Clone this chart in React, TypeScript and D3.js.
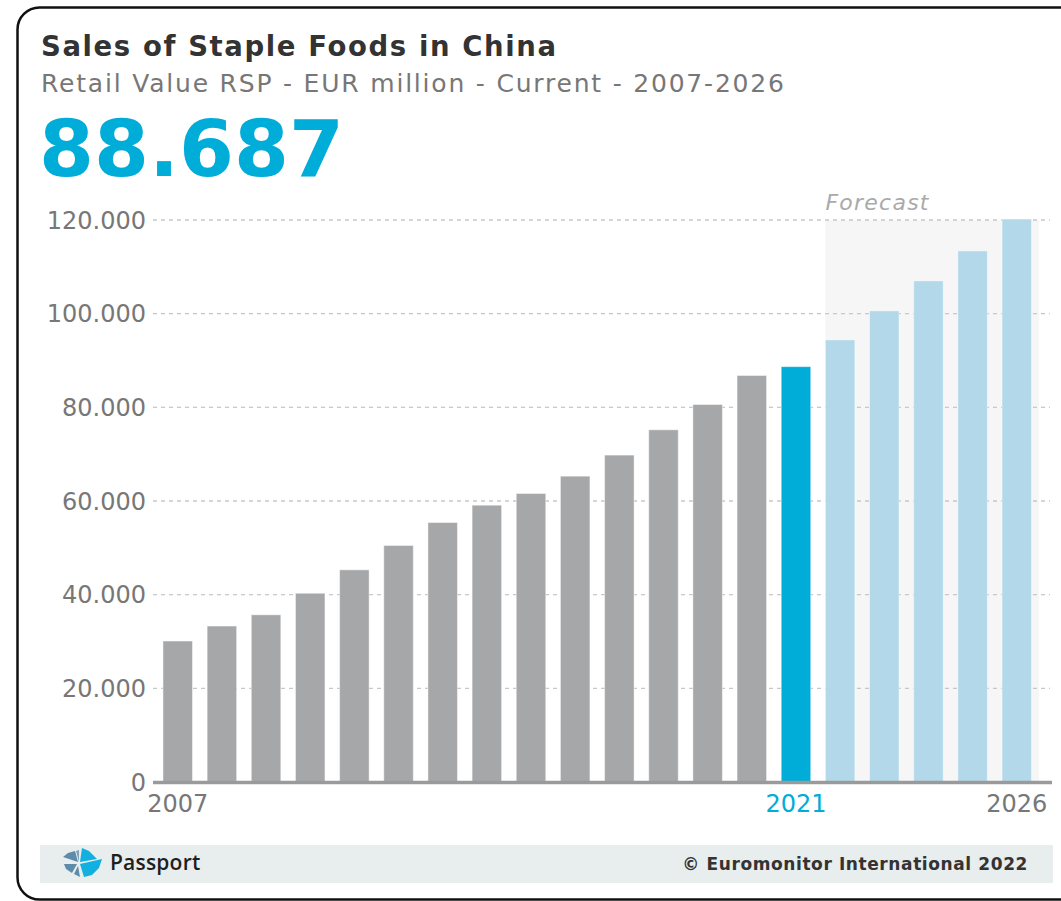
import React from "react";
import * as d3 from "d3";

const years = ["2007","2008","2009","2010","2011","2012","2013","2014","2015","2016","2017","2018","2019","2020","2021","2022","2023","2024","2025","2026"];
const values = [30.1,33.3,35.7,40.3,45.3,50.5,55.4,59.1,61.6,65.3,69.8,75.2,80.6,86.8,88.687,94.4,100.6,107.0,113.4,120.2];
const yTicks = [0,20,40,60,80,100,120];
const yTickLabels = ["0","20.000","40.000","60.000","80.000","100.000","120.000"];
const xLabels = ["2007","2021","2026"];
const currentYear = "2021";
const forecastYears = ["2022","2023","2024","2025","2026"];

const W = 1061, H = 901;
const FONT = "'DejaVu Sans', Verdana, sans-serif";

export default function App() {
  const x = d3.scaleBand<string>().domain(years).range([140.9, 1053.6]).paddingInner(0.332).paddingOuter(0.5);
  const y = d3.scaleLinear().domain([0, 120]).range([782, 220]);
  const bw = x.bandwidth();
  const gap = x.step() - bw;
  const fx0 = x(forecastYears[0])!;
  const fx1 = x(forecastYears[forecastYears.length - 1])! + bw + gap / 2;

  const color = (yr: string) =>
    yr === currentYear ? "#00acd8" : forecastYears.includes(yr) ? "#b2d8ea" : "#a6a7a9";

  return (
    <svg width={W} height={H} style={{ position: "absolute", left: 0, top: 0 }} fontFamily={FONT}>
      <rect x={0} y={0} width={W} height={H} fill="#fff" />
      <rect x={17.5} y={7.5} width={1080} height={892} rx={22} fill="#fff" stroke="#111" strokeWidth={2.5} />

      <text x={41} y={56} fontSize={27.5} fontWeight="bold" fill="#333" letterSpacing={1.6}>Sales of Staple Foods in China</text>
      <text x={41} y={92} fontSize={25} fill="#777" letterSpacing={1.8}>Retail Value RSP - EUR million - Current - 2007-2026</text>
      <text x={39} y={176} fontSize={79} fontWeight="bold" fill="#00acd8">88.687</text>

      {/* forecast background */}
      <rect x={fx0} y={y(120)} width={fx1 - fx0} height={y(0) - y(120)} fill="#f6f6f6" />
      <text x={fx0} y={210} fontSize={22} fontStyle="italic" fill="#aaa" letterSpacing={1.25}>Forecast</text>

      {/* gridlines */}
      {yTicks.filter(t => t > 0).map(t => (
        <line key={t} x1={153} x2={1050} y1={y(t)} y2={y(t)} stroke="#c8c8c8" strokeWidth={1.3} strokeDasharray="4,4" />
      ))}

      {/* bars */}
      {years.map((yr, i) => (
        <rect key={yr} x={x(yr)!} y={y(values[i])} width={bw} height={y(0) - y(values[i])} fill={color(yr)} stroke="#ffffff" strokeOpacity={0.45} strokeWidth={1} />
      ))}

      {/* axis line */}
      <line x1={153} x2={1052} y1={y(0) + 0.5} y2={y(0) + 0.5} stroke="#9a9a9a" strokeWidth={3.5} />

      {/* y labels */}
      {yTicks.map((t, i) => (
        <text key={t} x={146} y={y(t) + 8.5} fontSize={24} fill="#777" textAnchor="end">{yTickLabels[i]}</text>
      ))}

      {/* x labels */}
      {xLabels.map(l => (
        <text key={l} x={x(l)! + bw / 2} y={812} fontSize={24} textAnchor="middle" fill={l === currentYear ? "#00acd8" : "#777"}>{l}</text>
      ))}

      {/* footer */}
      <rect x={40} y={845} width={1013} height={38} fill="#e8eded" />
      <g>
        <polygon points="82,848 89,851 95,857 97,859 80,862" fill="#12b0e0" />
        <polygon points="80,864 102,859 99,868 92,875 84,877" fill="#12b0e0" />
        <polygon points="63,857 68,853 75,851 78,862" fill="#5d8cab" />
        <polygon points="64,864 77,864 72,873 66,869" fill="#5d8cab" />
        <polygon points="76,851 79,850 79,862" fill="#7fa3bd" />
        <polygon points="74,874 78,866 80,877" fill="#5d8cab" />
      </g>
      <text x={110} y={870} fontSize={21} fontWeight={600} fill="#1e1e1e" letterSpacing={0.2} fontFamily="'Open Sans', 'Noto Sans', sans-serif">Passport</text>
      <text x={1028} y={870} fontSize={17} fontWeight="bold" fill="#333" textAnchor="end" letterSpacing={0.6}>© Euromonitor International 2022</text>
    </svg>
  );
}
